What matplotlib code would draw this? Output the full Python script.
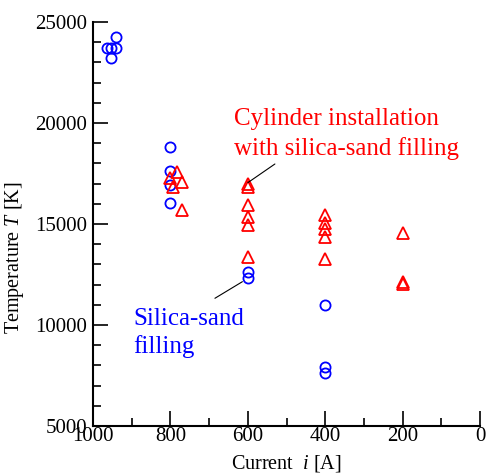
import matplotlib
matplotlib.use("Agg")
import matplotlib.pyplot as plt
from matplotlib.ticker import MultipleLocator

plt.rcParams["font.family"] = "Liberation Serif"
plt.rcParams["mathtext.fontset"] = "custom"
plt.rcParams["mathtext.rm"] = "Liberation Serif"
plt.rcParams["mathtext.it"] = "Liberation Serif:italic"

# silica-sand filling (blue circles)
sand_i = [964, 953, 941, 941, 953, 800, 800, 800, 800, 600, 600, 400, 400, 400]
sand_T = [23700, 23700, 23700, 24250, 23200, 18830, 17640, 16920, 16030,
          12640, 12310, 10990, 7940, 7610]

# cylinder installation with silica-sand filling (red triangles)
cyl_i = [801, 783, 770, 793, 770, 600, 600, 600, 600, 600, 600,
         400, 400, 400, 400, 400, 200, 200, 200]
cyl_T = [17280, 17590, 17090, 16850, 15690, 16980, 16820, 15940, 15360, 14950, 13380,
         15450, 15040, 14740, 14370, 13250, 14570, 12150, 12050]

fig = plt.figure(figsize=(4.86, 4.75), dpi=100)
ax = fig.add_axes([0.1914, 0.1032, 0.7963, 0.8505])

ax.plot(sand_i, sand_T, "o", ms=7.3, mfc="none", mec="#0000ff", mew=1.3, ls="none")
ax.plot(cyl_i, cyl_T, "^", ms=8.6, mfc="none", mec="#ff0000", mew=1.3, ls="none")

ax.set_xlim(1000, 0)
ax.set_ylim(5000, 25000)
ax.xaxis.set_major_locator(MultipleLocator(200))
ax.xaxis.set_minor_locator(MultipleLocator(100))
ax.yaxis.set_major_locator(MultipleLocator(5000))
ax.yaxis.set_minor_locator(MultipleLocator(1000))
for s in ("top", "right"):
    ax.spines[s].set_visible(False)
for s in ("left", "bottom"):
    ax.spines[s].set_linewidth(1.5)
ax.tick_params(which="major", direction="in", length=11, width=1.2, labelsize=15)
ax.tick_params(axis="x", which="major", pad=1)
ax.tick_params(axis="y", which="major", pad=4)
ax.tick_params(which="minor", direction="in", length=5.5, width=1.2)

ax.set_xlabel(r"Current  $\mathit{i}$ [A]", fontsize=14.5, labelpad=5)
ax.set_ylabel(r"Temperature $\mathit{T}$ [K]", fontsize=14.5)
ax.yaxis.set_label_coords(-0.172, 0.416)

ax.text(636, 18416, "Cylinder installation\nwith silica-sand filling", color="#ff0000",
        fontsize=18, ha="left", va="baseline", linespacing=1.37)
ax.annotate("", xy=(600, 17045), xytext=(530, 17970),
            arrowprops=dict(arrowstyle="-", color="black", lw=0.8, shrinkA=0, shrinkB=0))

ax.text(897, 8614, "Silica-sand\nfilling", color="#0000ff",
        fontsize=18, ha="left", va="baseline", linespacing=1.27)
ax.annotate("", xy=(614, 12144), xytext=(685, 11322),
            arrowprops=dict(arrowstyle="-", color="black", lw=0.8, shrinkA=0, shrinkB=0))

fig.savefig("out.png", dpi=100)
